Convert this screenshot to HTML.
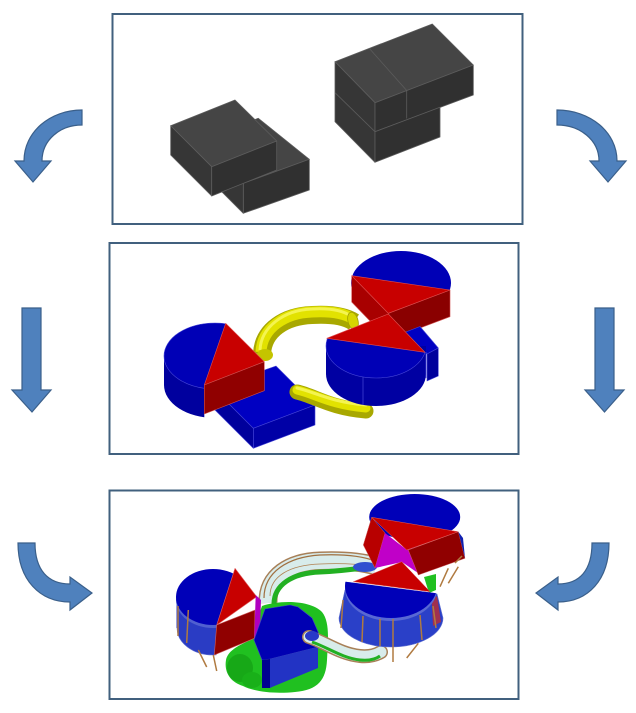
<!DOCTYPE html>
<html><head><meta charset="utf-8"><style>
html,body{margin:0;padding:0;background:#fff;}
svg{display:block;}
</style></head><body>
<svg width="636" height="713" viewBox="0 0 636 713" xmlns="http://www.w3.org/2000/svg">
<defs>
<clipPath id="c1"><polygon points="150,300 233.8,300 204.3,385 204.3,440 150,440"/></clipPath>
<clipPath id="c2"><polygon points="300,334.5 440,354.4 440,420 300,420"/></clipPath>
<clipPath id="c3"><polygon points="160,550 240.9,550 216.7,625 216,700 160,700"/></clipPath>
<clipPath id="c4"><polygon points="330,579.8 450,595 450,640 330,640"/></clipPath>
</defs>

<!-- ARROWS -->
<g fill="#4f81bd" stroke="#3a5f8a" stroke-width="1.2" stroke-linejoin="miter">
<path d="M82,110 C50,110 24,132 24,161 L15,161 L33,182 L51,161 L42,161 C42,140 60,125 82,125 Z"/>
<path d="M557,110 C590,110 617,132 617,161 L626,161 L608,182 L590,161 L599,161 C599,140 580,125 557,125 Z"/>
<path d="M22,308 L41,308 L41,390 L51,390 L32,412 L12,390 L22,390 Z"/>
<path d="M595,308 L614,308 L614,390 L624,390 L604.5,412 L585,390 L595,390 Z"/>
<path d="M18,543 L35,543 C35,570 48,584 70,584 L70,577 L92,593 L70,610 L70,602 C40,602 18,580 18,543 Z"/>
<path d="M609,543 L592,543 C592,570 580,584 558,584 L558,577 L536,593 L558,610 L558,602 C588,602 609,580 609,543 Z"/>
</g>

<!-- PANEL BORDERS -->
<g fill="none" stroke="#41607e" stroke-width="2">
<rect x="112.5" y="14" width="410" height="210"/>
<rect x="109.5" y="243" width="409" height="211"/>
<rect x="109.5" y="490.5" width="409" height="208.5"/>
</g>

<!-- TOP PANEL: gray blocks -->
<g stroke="#5c5c5c" stroke-width="0.8" stroke-linejoin="round">
<!-- block B -->
<polygon points="243.3,183.3 309.3,159.3 258.3,118.3 192.3,142.3" fill="#454545"/>
<polygon points="243.3,183.3 309.3,159.3 309.3,190 243.3,213.3" fill="#303030"/>
<polygon points="243.3,183.3 243.3,213.3 213,183 213,153" fill="#363636"/>
<!-- block A -->
<polygon points="170.7,125.7 235,100 276.7,141 211.7,166.7" fill="#454545"/>
<polygon points="170.7,125.7 211.7,166.7 211.7,196 170.7,155" fill="#363636"/>
<polygon points="211.7,166.7 276.7,141 276.7,170 211.7,196" fill="#303030"/>
<!-- right group -->
<polygon points="335,61.7 432.3,24 473.3,65 375,102.7" fill="#454545"/>
<polygon points="335,61.7 375,102.7 375,162.3 335,121.7" fill="#363636"/>
<polygon points="375,102.7 473.3,65 473.3,95 375,131.7" fill="#303030"/>
<polygon points="375,131.7 440,107.3 440,137 375,162.3" fill="#303030"/>
<line x1="369.3" y1="48.4" x2="406.7" y2="90.5"/>
<line x1="406.7" y1="90.5" x2="406.7" y2="118.5"/>
<line x1="335" y1="92.7" x2="375" y2="131.7"/>
</g>

<!-- MIDDLE PANEL -->
<g stroke-linejoin="round">
<!-- left blue box -->
<polygon points="253.3,428.3 315,405 276,366 213,388" fill="#0000c2" stroke="#4848d8" stroke-width="0.6"/>
<polygon points="253.3,428.3 315,405 315,425 253.3,448.3" fill="#0000a6" stroke="#4848d8" stroke-width="0.6"/>
<polygon points="253.3,428.3 253.3,448.3 213,408 213,388" fill="#00009c" stroke="#4848d8" stroke-width="0.6"/>

<!-- upper yellow tube -->
<path d="M262,354 C263,330 285,316 312,315 C330,314 345,316 354,322" fill="none" stroke="#a8a800" stroke-width="18"/>
<path d="M261,352 C262,328 285,313 312,312 C330,311 344,313 353,319" fill="none" stroke="#e2e200" stroke-width="11"/>
<path d="M260,350 C261,327 284,310 312,309 C329,308 342,310 351,316" fill="none" stroke="#f4f450" stroke-width="3"/>
<ellipse cx="265" cy="355" rx="8" ry="6" fill="#c4c400"/>
<ellipse cx="353" cy="321" rx="5" ry="9" transform="rotate(-15 353 321)" fill="#d6d600" stroke="#a0a000" stroke-width="0.8"/>

<!-- lower yellow tube -->
<path d="M297,392 C315,396 330,408 366,411" fill="none" stroke="#a8a800" stroke-width="15" stroke-linecap="round"/>
<path d="M297,390 C315,394 330,405 366,408" fill="none" stroke="#e2e200" stroke-width="9" stroke-linecap="round"/>
<path d="M297,388 C315,392 330,402 366,405" fill="none" stroke="#f4f450" stroke-width="3" stroke-linecap="round"/>

<!-- left cylinder -->
<g clip-path="url(#c1)">
<ellipse cx="215" cy="385" rx="51" ry="33" fill="#00009e"/>
<rect x="164" y="356" width="102" height="29" fill="#00009e"/>
<ellipse cx="215" cy="356" rx="51" ry="33" fill="#0000b6" stroke="#4848d8" stroke-width="0.6"/>
</g>
<polygon points="225.7,323.3 264.3,361.7 204.3,385" fill="#c80000" stroke="#e05050" stroke-width="0.6"/>
<polygon points="204.3,385 264.3,361.7 264.3,390.7 204.3,414" fill="#900000" stroke="#d05050" stroke-width="0.6"/>

<!-- upper right cylinder -->
<ellipse cx="401" cy="283" rx="50" ry="32" fill="#0000b6"/>
<polygon points="351.7,275.7 388.3,313.3 388.3,340 351.7,302" fill="#a80000" stroke="#d05050" stroke-width="0.6"/>
<polygon points="388.3,313.3 450,290 450,316.7 388.3,340" fill="#8a0000" stroke="#d05050" stroke-width="0.6"/>
<polygon points="351.7,275.7 450,290 388.3,313.3" fill="#c80000" stroke="#e05050" stroke-width="0.6"/>

<!-- right blue box -->
<polygon points="398,335 420,326.5 438.3,348 427,354" fill="#0000c2" stroke="#4848d8" stroke-width="0.6"/>
<polygon points="427,354 438.3,348 438.3,376 427,381" fill="#00009c" stroke="#4848d8" stroke-width="0.6"/>

<!-- lower right cylinder -->
<ellipse cx="376" cy="374" rx="50" ry="32" fill="#0000a2"/>
<rect x="326" y="346" width="100" height="28" fill="#0000a2"/>
<g clip-path="url(#c2)">
<ellipse cx="376" cy="346" rx="50" ry="32" fill="#0000b6" stroke="#4848d8" stroke-width="0.6"/>
</g>
<line x1="363" y1="377" x2="363" y2="405" stroke="#4848d8" stroke-width="0.7"/>
<line x1="426" y1="352" x2="426" y2="378" stroke="#4848d8" stroke-width="0.7"/>
<polygon points="326.7,338.3 388.3,314 425,352.3" fill="#c80000" stroke="#e05050" stroke-width="0.6"/>
</g>

<!-- BOTTOM PANEL -->
<g stroke-linejoin="round">
<!-- green base -->
<path d="M262,606 C280,600 310,600 322,612 C330,622 328,640 327,660 C326,680 318,690 295,692 C275,694 255,692 243,686 C230,682 224,672 226,660 C228,650 240,645 250,640 Z" fill="#20c020"/>
<ellipse cx="240" cy="668" rx="13" ry="14" fill="#17a817"/>
<ellipse cx="252" cy="680" rx="10" ry="8" fill="#19b019"/>
<polygon points="424,577 436,574 436,590 429,593" fill="#20c020"/>

<!-- upper translucent tube -->
<path d="M268,603 C267,576 290,562 320,561 C345,560 362,562 376,566" fill="none" stroke="#a88058" stroke-width="19"/>
<path d="M268,603 C267,576 290,562 320,561 C345,560 362,562 376,566" fill="none" stroke="#d8eceb" stroke-width="16"/>
<path d="M274,604 C274,585 292,573 320,572 C342,571 356,569 370,567" fill="none" stroke="#22b022" stroke-width="5"/>
<path d="M264,598 C264,572 288,557 320,555 C345,554 362,556 375,561" fill="none" stroke="#a07040" stroke-width="1.2"/>
<path d="M270,596 C270,576 290,565 320,564 C342,563 358,564 372,566" fill="none" stroke="#b08050" stroke-width="0.8"/>
<ellipse cx="365" cy="567" rx="12" ry="5" fill="#3050d0"/>

<!-- left cylinder -->
<g clip-path="url(#c3)">
<ellipse cx="213" cy="628" rx="36" ry="27" fill="#2a3cc4" stroke="#6070d0" stroke-width="0.6"/>
<rect x="176.5" y="600" width="73" height="28" fill="#2a3cc4"/>
<ellipse cx="213" cy="600" rx="37" ry="28" fill="#5060d0"/>
<ellipse cx="213" cy="597" rx="37" ry="28" fill="#0000b8"/>
</g>
<polygon points="235,568.3 256.7,596.7 216.7,625" fill="#c80000" stroke="#e06060" stroke-width="0.6"/>
<polygon points="216.7,625 255,610 254.3,638.3 214.3,655" fill="#900000" stroke="#d06060" stroke-width="0.6"/>
<polygon points="255.7,595 261,600 260,630 254.3,637.3" fill="#b000c0"/>
<g stroke="#b07a40" stroke-width="1.5" fill="none">
<line x1="188.3" y1="610" x2="186.7" y2="643"/>
<line x1="178" y1="606" x2="178" y2="636"/>
<line x1="198.3" y1="650" x2="206.7" y2="667"/>
<line x1="213.3" y1="655" x2="216.7" y2="671"/>
</g>

<!-- octagon -->
<polygon points="254,640 265,609 290,605 298,607 312,618 322,641 318,647 270,659 262,660" fill="#0000b2" stroke="#4040c8" stroke-width="0.6"/>
<polygon points="262,660 270,659 270,688 262,688" fill="#000090"/>
<polygon points="270,659 318,647 318,668 272,687 270,688" fill="#2233c4"/>

<!-- lower translucent tube -->
<path d="M309,637 C325,642 340,654 360,656 C370,657 376,655 381,652" fill="none" stroke="#a88058" stroke-width="14" stroke-linecap="round"/>
<path d="M309,637 C325,642 340,654 360,656 C370,657 376,655 381,652" fill="none" stroke="#d8eceb" stroke-width="11" stroke-linecap="round"/>
<path d="M312,642 C327,647 342,658 360,660 C370,661 376,659 380,656" fill="none" stroke="#22b022" stroke-width="3"/>
<ellipse cx="312" cy="636" rx="7" ry="5" fill="#2838c8"/>

<!-- upper right cylinder -->
<ellipse cx="414.7" cy="517" rx="45.5" ry="23" fill="#0000b8"/>
<polygon points="371.7,517.3 385,533 375,568 363.3,545" fill="#b80000" stroke="#d06060" stroke-width="0.5"/>
<polygon points="385,533 407,550 418,545 418,573 402,562 375,568" fill="#c000c8"/>
<polygon points="408.3,550 458.3,531.7 465,558.3 418.3,575" fill="#900000" stroke="#d06060" stroke-width="0.5"/>
<polygon points="458.3,531.7 463,538 465,558.3" fill="#1020b0"/>
<polygon points="371.7,517.3 458.3,531.7 406.7,550" fill="#c80000" stroke="#e06060" stroke-width="0.5"/>
<g stroke="#b07a40" stroke-width="1.5">
<line x1="440" y1="586.7" x2="448.3" y2="568.3"/>
<line x1="448.3" y1="583.3" x2="458.3" y2="566.7"/>
<line x1="455" y1="563" x2="462" y2="556"/>
</g>

<!-- lower right cylinder -->
<path d="M345,590 L339,618 A52,29 0 0 0 443,618 L437,594 Z" fill="#2a40c8" stroke="#6070d0" stroke-width="0.6"/>
<polygon points="431.7,600 437,596 441,622 433,626" fill="#a03050"/>
<g clip-path="url(#c4)">
<ellipse cx="391" cy="589" rx="46" ry="32" fill="#5868d4"/>
<ellipse cx="391" cy="586" rx="46" ry="32" fill="#0000b8"/>
</g>
<polygon points="353.3,581.7 401.7,561.7 430,591.7" fill="#c80000" stroke="#e06060" stroke-width="0.5"/>
<g stroke="#b07a40" stroke-width="1.5">
<line x1="343" y1="600" x2="341" y2="628"/>
<line x1="363" y1="616" x2="362" y2="642"/>
<line x1="380" y1="619" x2="380" y2="646"/>
<line x1="393" y1="619" x2="393" y2="662"/>
<line x1="420" y1="615" x2="422" y2="640"/>
<line x1="433" y1="606" x2="436" y2="628"/>
<line x1="406.7" y1="658" x2="418.3" y2="643.3"/>
</g>
</g>
</svg>
</body></html>
